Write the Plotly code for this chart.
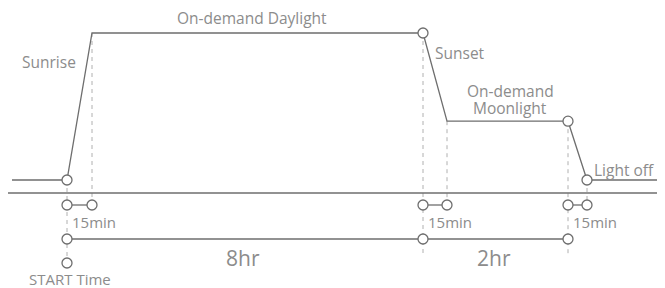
import plotly.graph_objects as go

# ---- schematic data (diagram coordinates) ----
event_labels = ["START", "Sunrise end", "Sunset start", "Sunset end", "Moonlight end", "Light off"]
event_x = [67, 92, 423, 447, 568, 587]
line_start_x = 12
line_end_x = 659
# light levels: off = 0, moonlight, daylight = 1
level_off = 0.0
level_moon = 0.40
level_day = 1.0

span_labels = ["8hr", "2hr"]
gap_label = "15min"
text_labels = ["On-demand Daylight", "Sunrise", "Sunset", "On-demand", "Moonlight", "Light off", "START Time"]

LINE = "#6e6e6e"
TXT = "#8c8c8c"
DASH = "#b0b0b0"
FONT = "Open Sans"

# page body has 8px margin: figure is placed at (8, 8)
OFF = 8
W, H = 665 - OFF, 288 - OFF
SCALE = 147.0  # pixels per light-level unit


def yv(py):
    """screen pixel row -> y value"""
    return (180 - py) / SCALE


row_axis = yv(193)
row_15 = yv(205)
row_span = yv(239)
row_start = yv(263)

x0, x1, x2, x3, x4, x5 = event_x

fig = go.Figure()


def dashed(x, ya, yb):
    fig.add_trace(go.Scatter(x=[x, x], y=[ya, yb], mode="lines",
                             line=dict(color=DASH, width=1, dash="4px,4px"),
                             hoverinfo="skip"))


# dashed verticals
dashed(x0, level_off, row_start)
dashed(x1, level_day, row_15)
dashed(x2, level_day, yv(256))
dashed(x3, level_moon, row_15)
dashed(x4, level_moon, yv(256))
dashed(x5, level_off, row_15)

# axis line
fig.add_trace(go.Scatter(x=[OFF, 665], y=[row_axis, row_axis], mode="lines",
                         line=dict(color=LINE, width=1.3), hoverinfo="skip"))

# light profile
prof_x = [line_start_x, x0, x1, x2, x3, x4, x5, line_end_x]
prof_y = [level_off, level_off, level_day, level_day, level_moon, level_moon, level_off, level_off]
fig.add_trace(go.Scatter(x=prof_x, y=prof_y, mode="lines",
                         line=dict(color=LINE, width=1.3), hoverinfo="skip"))

marker = dict(symbol="circle", size=10, color="white", line=dict(color=LINE, width=1.3))
fig.add_trace(go.Scatter(x=[x0, x2, x4, x5], y=[level_off, level_day, level_moon, level_off],
                         mode="markers", marker=marker, hoverinfo="skip"))

# 15 min pairs
for a, b in [(x0, x1), (x2, x3), (x4, x5)]:
    fig.add_trace(go.Scatter(x=[a, b], y=[row_15, row_15], mode="lines+markers",
                             line=dict(color=LINE, width=1.3), marker=marker, hoverinfo="skip"))

# span row
fig.add_trace(go.Scatter(x=[x0, x2, x4], y=[row_span] * 3, mode="lines+markers",
                         line=dict(color=LINE, width=1.3), marker=marker, hoverinfo="skip"))
# start marker
fig.add_trace(go.Scatter(x=[x0], y=[row_start], mode="markers", marker=marker, hoverinfo="skip"))


def txt(x, py, s, size=15.5, anchor="center"):
    fig.add_annotation(x=x, y=yv(py), text=s, showarrow=False, xanchor=anchor, yanchor="middle",
                       borderpad=0,
                       font=dict(family=FONT, size=size, color=TXT))


txt(252, 18, text_labels[0])
txt(77, 62, text_labels[1], anchor="right")
txt(434, 53, text_labels[2], anchor="left")
txt(510, 91, text_labels[3])
txt(510, 108, text_labels[4])
txt(593, 170, text_labels[5], anchor="left")
for xx in (x0, x2, x4):
    txt(xx + 4, 222, gap_label, size=15, anchor="left")
txt(243, 258, span_labels[0], size=21)
txt(494, 258, span_labels[1], size=21)
txt(70, 279, text_labels[6], size=15)

fig.update_layout(
    width=W, height=H, margin=dict(l=0, r=0, t=0, b=0),
    paper_bgcolor="white", plot_bgcolor="white", showlegend=False,
    xaxis=dict(range=[OFF, 665], visible=False, fixedrange=True),
    yaxis=dict(range=[yv(288), yv(OFF)], visible=False, fixedrange=True),
)
fig.write_html("out.html", config={"displayModeBar": False})
